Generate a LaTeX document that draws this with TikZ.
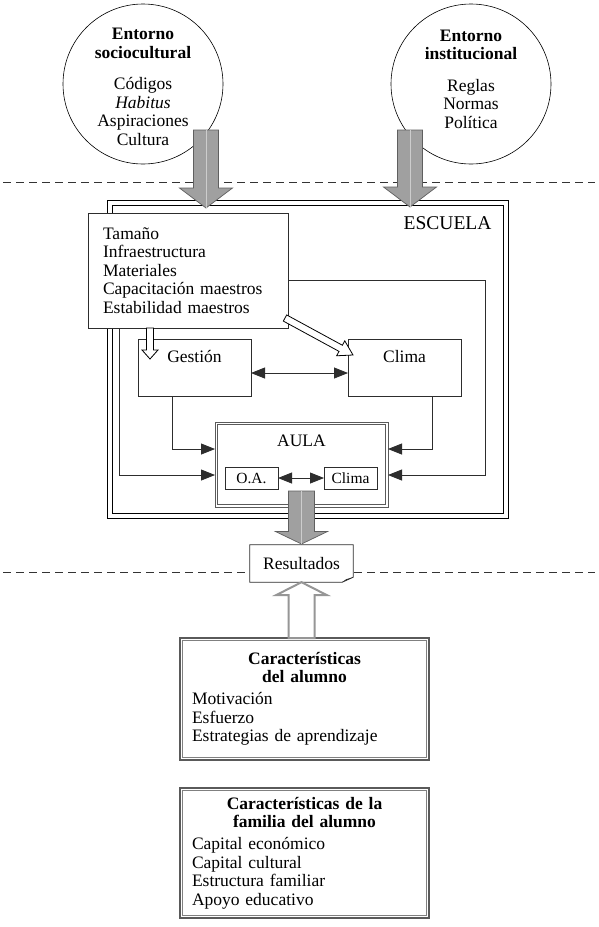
\documentclass[tikz,border=0pt]{standalone}
\usepackage{fontspec}
\setmainfont{Liberation Serif}
\usetikzlibrary{arrows.meta,calc,positioning}

\definecolor{lineColor}{RGB}{45,45,45}
\definecolor{arrowFill}{RGB}{160,160,160}
\definecolor{arrowEdge}{RGB}{95,95,95}
\definecolor{arrowMid}{RGB}{205,205,205}
\definecolor{hollowGray}{RGB}{150,150,150}
\definecolor{frameGray}{RGB}{90,90,90}

\newcommand{\mainsize}{\fontsize{17.5pt}{18.5pt}\selectfont}
\newcommand{\smallsize}{\fontsize{15.5pt}{17pt}\selectfont}
\newcommand{\escsize}{\fontsize{19.5pt}{20pt}\selectfont}

% block arrow: style, from, to, half shaft, half head, head length
\newcommand{\blockarrow}[6]{%
  \coordinate (bahead) at ($(#3)!#6!(#2)$);
  \path[#1] ($(#2)!#4!90:(#3)$) -- ($(bahead)!#4!90:(#3)$) -- ($(bahead)!#5!90:(#3)$)
    -- (#3) -- ($(bahead)!#5!-90:(#3)$) -- ($(bahead)!#4!-90:(#3)$) -- ($(#2)!#4!-90:(#3)$) -- cycle;}

% inner line of a framed node: node, inset, style
\newcommand{\innerframe}[3]{%
  \draw[#3] ([shift={(#2,-#2)}]#1.north west) rectangle ([shift={(-#2,#2)}]#1.south east);}

\tikzset{
  envcircle/.style={draw=black, line width=0.6pt, circle, minimum size=160pt, inner sep=0pt},
  box/.style={draw=lineColor, fill=white, line width=0.8pt, inner sep=0pt, outer sep=0pt},
  conn/.style={draw=lineColor, line width=0.8pt, -{Triangle[length=14pt,width=11pt]}},
  twoway/.style={draw=lineColor, line width=0.8pt, {Triangle[length=14pt,width=11pt]}-{Triangle[length=14pt,width=11pt]}},
  fatgray/.style={fill=arrowFill, draw=arrowEdge, line width=0.7pt},
  hollow/.style={fill=white, draw=black, line width=0.8pt},
  hollowgray/.style={fill=white, draw=hollowGray, line width=2pt},
  infobox/.style={draw=frameGray, line width=1.3pt, fill=white, outer sep=0pt,
    text width=225pt, inner xsep=12pt, inner ysep=0pt, minimum width=249pt},
  sepline/.style={draw=black!80, line width=0.8pt, dash pattern=on 8pt off 5pt}
}

\begin{document}
\begin{tikzpicture}[x=1pt,y=-1pt,font=\mainsize]
\path[use as bounding box,fill=white] (0,0) rectangle (598,927);

% dashed separators
\draw[sepline] (3,182) -- (595,182);
\draw[sepline] (3,572) -- (595,572);

% environments
\node[envcircle] (socio) at (143,84) {};
\node[envcircle] (inst) at (471,84) {};
\node[align=center] (sociotxt) at (143,87) {\textbf{Entorno}\\\textbf{sociocultural}\\[13pt]Códigos\\\textit{Habitus}\\Aspiraciones\\Cultura};
\node[align=center] (insttxt) at (471,79) {\textbf{Entorno}\\\textbf{institucional}\\[13pt]Reglas\\Normas\\Política};

% school frame
\node[draw=black, line width=0.9pt, inner sep=0pt, outer sep=0pt,
  minimum width=401pt, minimum height=318pt] (escuela) at (307.5,359) {};
\innerframe{escuela}{5pt}{black, line width=0.9pt}
\node[font=\escsize, anchor=east] (esclbl) at (495,223) {ESCUELA};

% resources box
\node[box, text width=170pt, inner xsep=15pt, minimum height=115pt] (tamano) at (188,270.5)
  {\raggedright Tamaño\\Infraestructura\\Materiales\\Capacitación maestros\\Estabilidad maestros};

% gestion and clima
\node[box, minimum width=113pt, minimum height=57pt, text height=12pt, text depth=22pt] (gestion) at (194.5,367.5) {Gestión};
\node[box, minimum width=113pt, minimum height=57pt, text height=12pt, text depth=22pt] (clima) at (404.5,367.5) {Clima};

% classroom
\node[draw=frameGray, line width=0.9pt, fill=white, inner sep=0pt, outer sep=0pt,
  minimum width=173pt, minimum height=85pt] (aula) at (301.5,464.5) {};
\innerframe{aula}{2.5pt}{frameGray, line width=0.7pt}
\node (aulalbl) at ($(aula.north)+(0,19)$) {AULA};
\node[box, font=\smallsize, minimum width=53pt, minimum height=22pt] (oa) at (251.5,478) {O.A.};
\node[box, font=\smallsize, minimum width=53pt, minimum height=22pt] (climaaula) at (350.5,478) {Clima};

% connectors
\coordinate (rail) at (485,280);
\draw[twoway] ([yshift=-5.5pt]gestion.east) -- ([yshift=-5.5pt]clima.west);
\draw[twoway] (oa) -- (climaaula);
\draw[conn] ([xshift=-22.5pt]gestion.south) |- ([yshift=15.5pt]aula.west);
\draw[conn] ([xshift=27.5pt]clima.south) |- ([yshift=15.5pt]aula.east);
\draw[conn] ([xshift=-69pt]tamano.south) |- ([yshift=-10.5pt]aula.west);
\draw[conn] ([yshift=-9.5pt]tamano.east) -- (rail) |- ([yshift=-10.5pt]aula.east);

% hollow arrows from resources
\coordinate (gstart) at (150,328);
\coordinate (gtip) at (150,359);
\blockarrow{hollow}{gstart}{gtip}{3.5pt}{8pt}{9pt}
\coordinate (dstart) at (285,318);
\coordinate (dtip) at (353,355);
\blockarrow{hollow}{dstart}{dtip}{3.5pt}{8.5pt}{14pt}

% big gray arrows
\coordinate (sociofoot) at (206,130);
\coordinate (sociotip) at (206,208);
\blockarrow{fatgray}{sociofoot}{sociotip}{12.5pt}{26.5pt}{20pt}
\draw[arrowMid, line width=0.6pt] (sociofoot) -- (sociotip);
\coordinate (instfoot) at (410,130);
\coordinate (insttip) at (410,207);
\blockarrow{fatgray}{instfoot}{insttip}{12.5pt}{26.5pt}{20pt}
\draw[arrowMid, line width=0.6pt] (instfoot) -- (insttip);

% results
\node[fill=white, inner sep=0pt, minimum width=103pt, minimum height=37pt] (result) at (301.5,563.5) {Resultados};
\draw[lineColor, line width=0.8pt] (result.north west) -- (result.north east) -- ([yshift=5pt]result.south east)
  -- ([xshift=-11pt]result.south east) -- (result.south west) -- cycle;
\fill[lineColor] ([yshift=5pt]result.south east) -- ([xshift=-11pt]result.south east) -- ([shift={(-7pt,3pt)}]result.south east) -- cycle;
\coordinate (aulafoot) at (301.5,491);
\coordinate (aulatip) at (301.5,544);
\blockarrow{fatgray}{aulafoot}{aulatip}{13pt}{26pt}{12.5pt}
\draw[arrowMid, line width=0.6pt] (aulafoot) -- (aulatip);

% pupil and family
\node[infobox, minimum height=122pt] (alumno) at (304.5,699)
  {{\centering\bfseries Características\\del alumno\par}\vspace{3.5pt}\raggedright Motivación\\Esfuerzo\\Estrategias de aprendizaje};
\innerframe{alumno}{2.5pt}{gray, line width=0.6pt}
\node[infobox, minimum height=130pt] (familia) at (304.5,853)
  {{\centering\bfseries Características de la\\familia del alumno\par}\vspace{3.5pt}\raggedright Capital económico\\Capital cultural\\Estructura familiar\\Apoyo educativo};
\innerframe{familia}{2.5pt}{gray, line width=0.6pt}
\coordinate (alfoot) at (alumno.north -| result.south);
\coordinate (altip) at (result.south);
\blockarrow{hollowgray}{alfoot}{altip}{13pt}{25.5pt}{13pt}
\end{tikzpicture}
\end{document}
